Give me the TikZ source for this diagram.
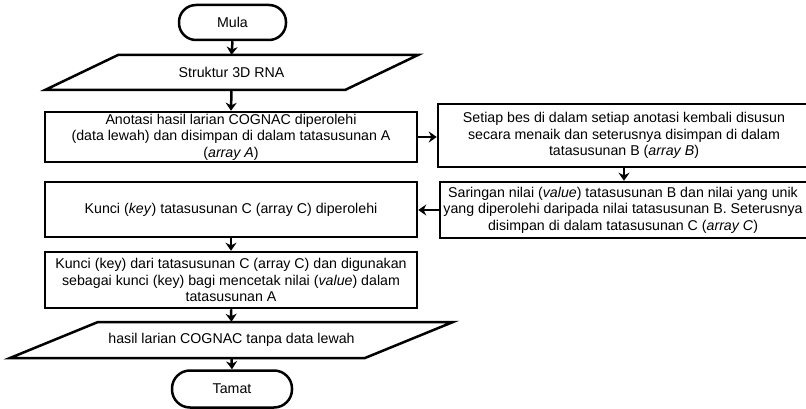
\documentclass[tikz,border=0pt]{standalone}
\usepackage{fontspec}
\setmainfont{Liberation Sans}
\usetikzlibrary{arrows.meta}
\begin{document}
\begin{tikzpicture}[x=1pt,y=-1pt,
  every node/.style={font=\fontsize{14.2}{16.5}\selectfont, inner sep=0pt, align=center},
  line/.style={line width=2.5pt, line join=miter},
  box/.style={draw, line width=2.5pt, rectangle},
  term/.style={draw, line width=2.5pt, rounded corners=17pt},
  arr/.style={line width=2.5pt, -{Stealth[length=8pt,width=11pt]}}]
\useasboundingbox (0,0) rectangle (806,409);
\clip (0,0) rectangle (806,409);
% Mula
\node[term, minimum width=107pt, minimum height=35pt] (mula) at (232.5,22.5) {Mula};
% Struktur parallelogram
\node[minimum width=300pt, minimum height=35pt] (s) at (231.5,72.5) {Struktur 3D RNA};
\draw[line] (118,55) -- (418,55) -- (345,90) -- (45,90) -- cycle;
% A
\node[box, minimum width=372pt, minimum height=50pt] (A) at (231,137) {Anotasi hasil larian COGNAC diperolehi\\(data lewah) dan disimpan di dalam tatasusunan A\\(\textit{array A})};
% B
\node[box, minimum width=372pt, minimum height=63pt] (B) at (624,135.5) {Setiap bes di dalam setiap anotasi kembali disusun\\secara menaik dan seterusnya disimpan di dalam\\tatasusunan B (\textit{array B})};
% S
\node[box, minimum width=372pt, minimum height=56pt] (S) at (626,210) {\hspace*{-6pt}Saringan nilai (\textit{value}) tatasusunan B dan nilai yang unik\\\hspace*{-6pt}yang diperolehi daripada nilai tatasusunan B. Seterusnya\\\hspace*{-6pt}disimpan di dalam tatasusunan C (\textit{array C})};
% C
\node[box, minimum width=372pt, minimum height=55pt] (C) at (231,209.5) {Kunci (\textit{key}) tatasusunan C (array C) diperolehi};
% D
\node[box, minimum width=372pt, minimum height=56pt] (D) at (231,280) {Kunci (key) dari tatasusunan C (array C) dan digunakan\\sebagai kunci (key) bagi mencetak nilai (\textit{value}) dalam\\tatasusunan A};
% hasil parallelogram
\node[minimum width=355pt, minimum height=36pt] (h) at (231.5,340) {hasil larian COGNAC tanpa data lewah};
\draw[line] (98,322) -- (453,322) -- (365,358) -- (10,358) -- cycle;
% Tamat
\node[term, minimum width=120pt, minimum height=37pt, rounded corners=18pt] (tamat) at (232,389) {Tamat};
% arrows
\draw[arr] (mula.south) -- (s.north);
\draw[arr] (s.south) -- (A.north);
\draw[arr] (A.east) -- (A.east -| B.west);
\draw[arr] (B.south) -- (B.south |- S.north);
\draw[arr] (S.west) -- (S.west -| C.east);
\draw[arr] (C.south) -- (D.north);
\draw[arr] (D.south) -- (h.north);
\draw[arr] (h.south) -- (tamat.north);
\end{tikzpicture}
\end{document}
